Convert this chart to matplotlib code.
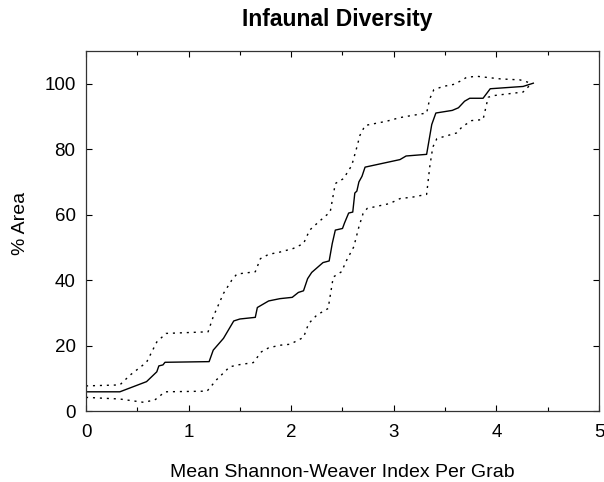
import matplotlib
matplotlib.use("Agg")
import matplotlib.pyplot as plt
from matplotlib.ticker import MultipleLocator

plt.rcParams['font.family'] = ['Liberation Sans', 'DejaVu Sans']

# cumulative % area vs mean Shannon-Weaver index (median and bounds)
mid_x = [0.0, 0.33, 0.59, 0.69, 0.71, 0.75, 0.77, 1.20, 1.24, 1.34, 1.44, 1.50, 1.65, 1.67,
         1.78, 1.89, 2.01, 2.07, 2.12, 2.16, 2.20, 2.31, 2.37, 2.40, 2.43, 2.50, 2.52, 2.56,
         2.60, 2.62, 2.64, 2.66, 2.69, 2.72, 3.06, 3.12, 3.32, 3.37, 3.41, 3.57, 3.63, 3.69,
         3.74, 3.87, 3.94, 4.26, 4.36]
mid_y = [6.0, 6.0, 9.1, 12.1, 13.9, 14.2, 15.0, 15.2, 18.7, 22.3, 27.6, 28.2, 28.7, 31.7,
         33.7, 34.4, 34.8, 36.3, 36.8, 40.5, 42.4, 45.4, 45.9, 51.2, 55.3, 55.8, 57.5, 60.5,
         60.8, 66.6, 67.2, 70.0, 71.7, 74.5, 76.8, 77.9, 78.4, 87.5, 91.0, 91.8, 92.6, 94.6,
         95.5, 95.5, 98.4, 99.1, 100.1]

up_x = [0.0, 0.33, 0.43, 0.59, 0.69, 0.78, 1.19, 1.24, 1.34, 1.42, 1.47, 1.65, 1.70, 1.78,
        1.89, 2.02, 2.12, 2.18, 2.25, 2.33, 2.38, 2.43, 2.51, 2.59, 2.64, 2.67, 2.72, 2.93,
        3.06, 3.13, 3.32, 3.35, 3.39, 3.48, 3.58, 3.66, 3.71, 3.81, 4.04, 4.23, 4.34]
up_y = [7.8, 8.1, 11.1, 15.0, 21.2, 23.8, 24.3, 28.9, 36.0, 40.0, 41.9, 42.6, 46.6, 47.9,
        48.6, 49.7, 51.2, 55.3, 57.3, 59.5, 60.8, 69.5, 71.0, 75.0, 80.6, 84.2, 87.2, 88.5,
        89.6, 90.0, 91.0, 95.3, 98.1, 99.1, 99.7, 100.9, 101.9, 102.2, 101.4, 101.1, 100.1]

lo_x = [0.0, 0.33, 0.56, 0.67, 0.77, 1.18, 1.27, 1.40, 1.48, 1.63, 1.71, 1.78, 1.89, 1.99,
        2.12, 2.17, 2.25, 2.36, 2.41, 2.49, 2.54, 2.61, 2.66, 2.70, 2.74, 2.96, 3.06, 3.19,
        3.32, 3.35, 3.38, 3.42, 3.61, 3.67, 3.76, 3.87, 3.92, 3.97, 4.26, 4.34]
lo_y = [4.3, 3.8, 2.8, 3.5, 6.0, 6.2, 9.6, 13.6, 14.2, 14.9, 18.2, 19.4, 20.2, 20.5,
        22.6, 26.8, 29.4, 31.4, 41.0, 42.6, 46.1, 50.2, 56.3, 60.3, 61.9, 63.4, 64.9, 65.4,
        66.2, 74.5, 80.6, 83.2, 84.9, 86.9, 88.7, 89.0, 95.8, 96.3, 97.4, 99.9]

fig = plt.figure(figsize=(6.04, 4.82), dpi=100)
ax = fig.add_axes([0.1424, 0.1463, 0.8493, 0.7485])

dots = (0, (1.5, 3.5))
ax.plot(up_x, up_y, color='k', lw=1.0, linestyle=dots)
ax.plot(lo_x, lo_y, color='k', lw=1.0, linestyle=dots)
ax.plot(mid_x, mid_y, color='k', lw=1.0)

ax.set_xlim(0, 5)
ax.set_ylim(0, 110)
ax.set_xticks([0, 1, 2, 3, 4, 5])
ax.set_yticks([0, 20, 40, 60, 80, 100])
ax.xaxis.set_minor_locator(MultipleLocator(0.5))
ax.tick_params(which='major', direction='in', top=True, right=True,
               length=4.3, width=0.8, labelsize=13.5)
ax.tick_params(which='minor', direction='in', top=True, right=True,
               length=3, width=0.8)
ax.tick_params(axis='x', pad=9)
ax.tick_params(axis='y', pad=7.5)

for s in ax.spines.values():
    s.set_linewidth(0.9)
    s.set_color('#333333')

# labels placed by baseline in figure coordinates
fig.text(0.567, 0.0104, 'Mean Shannon-Weaver Index Per Grab', fontsize=14,
         ha='center', va='baseline')
fig.text(0.0414, 0.536, '% Area', fontsize=14, rotation=90,
         rotation_mode='anchor', ha='center', va='baseline')
fig.text(0.559, 0.946, 'Infaunal Diversity', fontsize=16.5, fontweight='bold',
         ha='center', va='baseline')

fig.savefig('out.png', dpi=100)
